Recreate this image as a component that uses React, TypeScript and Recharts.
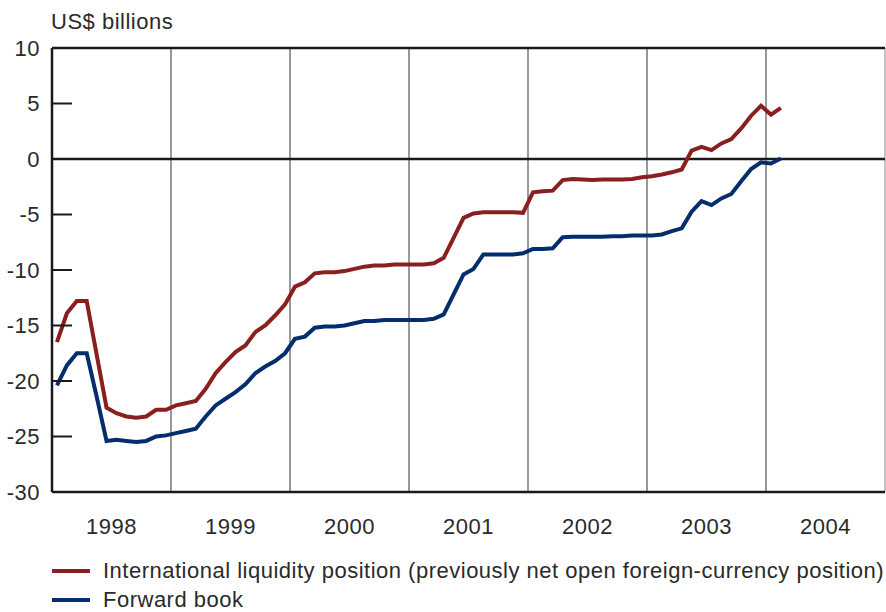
import {
  LineChart,
  Line,
  XAxis,
  YAxis,
  ReferenceLine,
} from "recharts";

// monthly, Jan 1998 .. Feb 2004
const liquidity = [
  -16.5, -13.9, -12.8, -12.8, -17.6, -22.4, -22.9, -23.2, -23.3, -23.2, -22.6, -22.6,
  -22.2, -22.0, -21.8, -20.7, -19.3, -18.3, -17.4, -16.8, -15.6, -15.0, -14.1, -13.1,
  -11.5, -11.1, -10.3, -10.2, -10.2, -10.1, -9.9, -9.7, -9.6, -9.6, -9.5, -9.5,
  -9.5, -9.5, -9.4, -8.9, -7.1, -5.3, -4.9, -4.8, -4.8, -4.8, -4.8, -4.85,
  -3.0, -2.9, -2.85, -1.9, -1.8, -1.85, -1.9, -1.85, -1.85, -1.85, -1.8, -1.65,
  -1.55, -1.4, -1.2, -0.95, 0.75, 1.1, 0.8, 1.4, 1.8, 2.75, 3.9, 4.8,
  4.0, 4.6,
];

const forwardBook = [
  -20.4, -18.6, -17.5, -17.5, -21.4, -25.4, -25.3, -25.4, -25.5, -25.4, -25.0, -24.9,
  -24.7, -24.5, -24.3, -23.2, -22.2, -21.6, -21.0, -20.3, -19.3, -18.7, -18.2, -17.5,
  -16.2, -16.0, -15.2, -15.1, -15.1, -15.0, -14.8, -14.6, -14.6, -14.5, -14.5, -14.5,
  -14.5, -14.5, -14.4, -14.0, -12.2, -10.4, -9.9, -8.6, -8.6, -8.6, -8.6, -8.5,
  -8.1, -8.1, -8.05, -7.05, -7.0, -7.0, -7.0, -7.0, -6.95, -6.95, -6.9, -6.9,
  -6.9, -6.8, -6.5, -6.25, -4.75, -3.8, -4.15, -3.55, -3.15, -2.0, -0.9, -0.3,
  -0.4, 0.05,
];

const years = ["1998", "1999", "2000", "2001", "2002", "2003", "2004"];
const yTicks = [10, 5, 0, -5, -10, -15, -20, -25, -30];

const RED = "#8a1f1f";
const BLUE = "#032d6c";
const FONT = "'Liberation Sans', Arial, sans-serif";
const TXT = "#2a2a2a";

// x in months from Jan 1998, plotted mid-month
const data = liquidity.map((v, i) => ({
  t: i + 0.5,
  liquidity: v,
  forward: forwardBook[i],
}));

const yearStarts = years.slice(1).map((_, i) => (i + 1) * 12);
const yearMids = years.map((_, i) => i * 12 + 6);

const tickStyle = { fontSize: 22, fill: TXT, fontFamily: FONT, letterSpacing: 0.5 };

export default function App() {
  return (
    <div
      style={{
        position: "absolute",
        left: 0,
        top: 0,
        width: 886,
        height: 612,
        background: "#fff",
        fontFamily: FONT,
      }}
    >
      <div
        style={{
          position: "absolute",
          left: 51,
          top: 9,
          fontSize: 22,
          letterSpacing: 0.5,
          color: TXT,
        }}
      >
        US$ billions
      </div>
      <LineChart
        width={886}
        height={612}
        data={data}
        margin={{ top: 48, right: 1, left: 0, bottom: 80 }}
      >
        <XAxis
          dataKey="t"
          type="number"
          domain={[0, 84]}
          ticks={yearMids}
          tickFormatter={(v) => years[Math.round((v - 6) / 12)]}
          tickLine={false}
          tickSize={0}
          tickMargin={26}
          height={40}
          axisLine={{ stroke: "#1a1a1a", strokeWidth: 2.5 }}
          tick={tickStyle}
          interval={0}
        />
        <YAxis
          type="number"
          domain={[-30, 10]}
          ticks={yTicks}
          width={52}
          tickSize={-20}
          tickMargin={32}
          tickLine={{ stroke: "#1a1a1a", strokeWidth: 2 }}
          axisLine={{ stroke: "#1a1a1a", strokeWidth: 2.5 }}
          tick={tickStyle}
          interval={0}
        />
        {yearStarts.map((x) => (
          <ReferenceLine key={x} x={x} stroke="#555" strokeWidth={1.2} />
        ))}
        <ReferenceLine x={84} stroke="#888" strokeWidth={1} />
        <ReferenceLine y={10} stroke="#1a1a1a" strokeWidth={2.5} />
        <ReferenceLine y={0} stroke="#1a1a1a" strokeWidth={2.5} />
        <Line
          dataKey="liquidity"
          stroke={RED}
          strokeWidth={4}
          dot={false}
          type="linear"
          isAnimationActive={false}
        />
        <Line
          dataKey="forward"
          stroke={BLUE}
          strokeWidth={4}
          dot={false}
          type="linear"
          isAnimationActive={false}
        />
      </LineChart>
      <div
        style={{
          position: "absolute",
          left: 52,
          top: 556,
          fontSize: 22,
          letterSpacing: 0.5,
          color: TXT,
          lineHeight: "29px",
        }}
      >
        {[
          { c: RED, label: "International liquidity position (previously net open foreign-currency position)" },
          { c: BLUE, label: "Forward book" },
        ].map((item) => (
          <div key={item.label} style={{ display: "flex", alignItems: "center", whiteSpace: "nowrap" }}>
            <span style={{ display: "inline-block", width: 38, height: 4, background: item.c, marginRight: 13 }} />
            {item.label}
          </div>
        ))}
      </div>
    </div>
  );
}
